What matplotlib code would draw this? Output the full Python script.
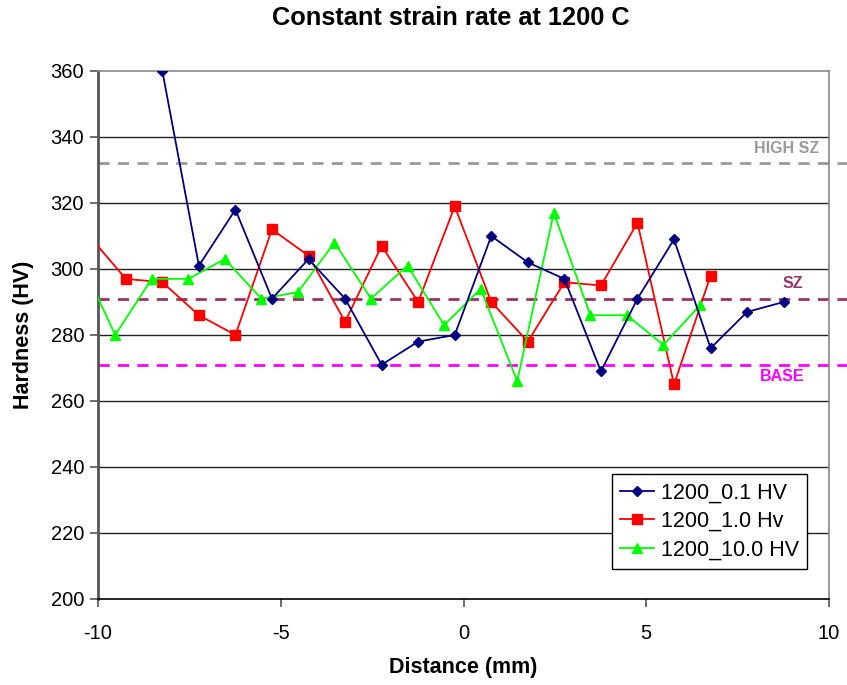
import matplotlib
matplotlib.use('Agg')
import matplotlib.pyplot as plt

plt.rcParams['font.family'] = ['Liberation Sans', 'DejaVu Sans']
plt.rcParams['axes.unicode_minus'] = False

# Data
x_01 = [-8.24, -7.24, -6.24, -5.24, -4.24, -3.24, -2.24, -1.24, -0.24,
        0.76, 1.76, 2.76, 3.76, 4.76, 5.76, 6.76, 7.76, 8.76]
hv_01 = [360, 301, 318, 291, 303, 291, 271, 278, 280,
         310, 302, 297, 269, 291, 309, 276, 287, 290]

x_10 = [-10.24, -9.24, -8.24, -7.24, -6.24, -5.24, -4.24, -3.24, -2.24,
        -1.24, -0.24, 0.76, 1.76, 2.76, 3.76, 4.76, 5.76, 6.76]
hv_10 = [310, 297, 296, 286, 280, 312, 304, 284, 307,
         290, 319, 290, 278, 296, 295, 314, 265, 298]

x_100 = [-10.53, -9.53, -8.53, -7.53, -6.53, -5.53, -4.53, -3.53, -2.53,
         -1.53, -0.53, 0.47, 1.47, 2.47, 3.47, 4.47, 5.47, 6.47]
hv_100 = [304, 280, 297, 297, 303, 291, 293, 308, 291,
          301, 283, 294, 266, 317, 286, 286, 277, 289]

ref_names = ['HIGH SZ', 'SZ', 'BASE']
ref_values = [332, 291, 271]
ref_colors = ['#999999', '#993366', '#FF00FF']

fig = plt.figure(figsize=(8.47, 6.85), dpi=100)
ax = fig.add_axes([98 / 847, 1 - 599 / 685, 731 / 847, 528 / 685])

ax.set_xlim(-10, 10)
ax.set_ylim(200, 360)
ax.set_xticks([-10, -5, 0, 5, 10])
ax.set_yticks(range(200, 361, 20))

# horizontal gridlines
for yv in range(220, 360, 20):
    ax.axhline(yv, color='#222222', linewidth=1.0, zorder=1)

# reference levels
for name, val, col in zip(ref_names, ref_values, ref_colors):
    ax.plot([-10, 10.5], [val, val], linestyle=(0, (4, 3)), color=col,
            linewidth=2.0, clip_on=False, zorder=2)

ax.text(9.74, 336.4, 'HIGH SZ', color='#999999', fontsize=11.5, fontweight='bold',
        ha='right', va='center')
ax.text(9.0, 295.5, 'SZ', color='#993366', fontsize=11.5, fontweight='bold',
        ha='center', va='center')
ax.text(8.73, 267.3, 'BASE', color='#FF00FF', fontsize=11.5, fontweight='bold',
        ha='center', va='center')

ax.plot(x_01, hv_01, color='#000080', marker='D', markersize=5.5,
        linewidth=1.3, label='1200_0.1 HV', zorder=4)
ax.plot(x_10, hv_10, color='#FF0000', marker='s', markersize=7,
        linewidth=1.3, label='1200_1.0 Hv', zorder=3)
ax.plot(x_100, hv_100, color='#00FF00', marker='^', markersize=7.5,
        linewidth=1.3, label='1200_10.0 HV', zorder=3)

for side in ['top', 'right']:
    ax.spines[side].set_color('#888888')
    ax.spines[side].set_linewidth(1.2)
ax.spines['left'].set_color('#555555')
ax.spines['left'].set_linewidth(2.0)
ax.spines['bottom'].set_color('#000000')
ax.spines['bottom'].set_linewidth(1.2)

ax.tick_params(axis='both', direction='out', length=6, width=1.2,
               labelsize=14.5, colors='#555555', labelcolor='black')
ax.tick_params(axis='x', pad=12)
ax.tick_params(axis='y', pad=4)

fig.text(451 / 847, 1 - 18 / 685, 'Constant strain rate at 1200 C', fontsize=18.3,
         fontweight='bold', ha='center', va='center')
ax.set_xlabel('Distance (mm)', fontsize=15.5, fontweight='bold', labelpad=10)
ax.set_ylabel('Hardness (HV)', fontsize=15.5, fontweight='bold', labelpad=12)

leg = ax.legend(loc='lower right', bbox_to_anchor=(0.97, 0.057), fontsize=15.5,
                frameon=True, fancybox=False, edgecolor='black', framealpha=1,
                handlelength=1.6, borderpad=0.38, labelspacing=0.36,
                handletextpad=0.3, borderaxespad=0)
leg.get_frame().set_linewidth(1.0)

fig.savefig('out.png', dpi=100)
